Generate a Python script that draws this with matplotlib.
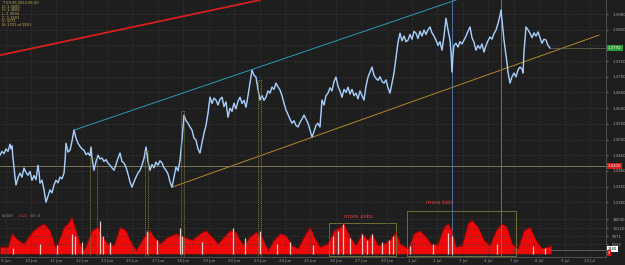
import matplotlib.pyplot as plt
from matplotlib.patches import Rectangle

# price trace: (bar index, price)
price_trace = [
    (0, 1.3450), (2, 1.3462), (4, 1.3455), (6, 1.3470), (8, 1.3462), (10, 1.3485), (11, 1.3470), (12, 1.3480),
    (13, 1.3440), (14, 1.3412), (15, 1.3380), (16, 1.3355), (18, 1.3378), (20, 1.3393), (22, 1.3380),
    (24, 1.3409), (26, 1.3395), (28, 1.3386), (30, 1.3398), (32, 1.3370), (34, 1.3385), (36, 1.3372),
    (38, 1.3418), (39, 1.3395), (40, 1.3361), (42, 1.3370), (44, 1.3339), (46, 1.3300), (48, 1.3320),
    (50, 1.3339), (52, 1.3330), (54, 1.3355), (56, 1.3370), (58, 1.3362), (60, 1.3380), (62, 1.3375),
    (64, 1.3393), (65, 1.3430), (66, 1.3488), (68, 1.3460), (70, 1.3466), (72, 1.3495), (74, 1.3530),
    (76, 1.3505), (78, 1.3488), (80, 1.3478), (82, 1.3470), (84, 1.3466), (86, 1.3452), (88, 1.3457),
    (90, 1.3448), (91, 1.3476), (92, 1.3440), (94, 1.3402), (96, 1.3430), (98, 1.3450), (100, 1.3438),
    (102, 1.3441), (104, 1.3430), (106, 1.3436), (108, 1.3425), (110, 1.3418), (112, 1.3410), (114, 1.3402),
    (116, 1.3420), (118, 1.3440), (120, 1.3457), (122, 1.3430), (124, 1.3425), (126, 1.3412), (128, 1.3390),
    (130, 1.3365), (132, 1.3348), (134, 1.3365), (136, 1.3380), (138, 1.3393), (140, 1.3402), (142, 1.3418),
    (144, 1.3440), (146, 1.3476), (148, 1.3430), (150, 1.3402), (152, 1.3420), (154, 1.3410), (156, 1.3428),
    (158, 1.3418), (160, 1.3432), (162, 1.3425), (164, 1.3410), (166, 1.3402), (168, 1.3390), (170, 1.3365),
    (172, 1.3348), (174, 1.3380), (176, 1.3412), (178, 1.3400), (180, 1.3434), (182, 1.3500), (184, 1.3578),
    (186, 1.3560), (188, 1.3552), (190, 1.3540), (192, 1.3530), (194, 1.3505), (196, 1.3498), (198, 1.3470),
    (200, 1.3457), (202, 1.3490), (204, 1.3520), (206, 1.3545), (208, 1.3584), (210, 1.3635), (212, 1.3615),
    (214, 1.3632), (216, 1.3626), (218, 1.3610), (220, 1.3628), (222, 1.3635), (224, 1.3605), (226, 1.3620),
    (228, 1.3571), (230, 1.3600), (232, 1.3590), (234, 1.3616), (236, 1.3598), (238, 1.3622), (240, 1.3635),
    (242, 1.3615), (244, 1.3625), (246, 1.3603), (248, 1.3640), (250, 1.3680), (252, 1.3721), (254, 1.3705),
    (256, 1.3699), (258, 1.3660), (260, 1.3626), (262, 1.3640), (264, 1.3625), (266, 1.3635), (268, 1.3655),
    (270, 1.3648), (272, 1.3667), (274, 1.3660), (276, 1.3680), (278, 1.3668), (280, 1.3658), (282, 1.3640),
    (284, 1.3615), (286, 1.3594), (288, 1.3580), (290, 1.3565), (292, 1.3552), (294, 1.3560), (296, 1.3545),
    (298, 1.3540), (300, 1.3555), (302, 1.3565), (304, 1.3578), (306, 1.3565), (308, 1.3552), (310, 1.3530),
    (312, 1.3508), (314, 1.3525), (316, 1.3545), (318, 1.3552), (320, 1.3540), (322, 1.3626), (324, 1.3610),
    (326, 1.3640), (328, 1.3648), (330, 1.3665), (332, 1.3655), (334, 1.3685), (336, 1.3699), (338, 1.3670),
    (340, 1.3655), (342, 1.3635), (344, 1.3660), (346, 1.3650), (348, 1.3667), (350, 1.3645), (352, 1.3660),
    (354, 1.3640), (356, 1.3648), (358, 1.3630), (360, 1.3655), (362, 1.3640), (364, 1.3626), (366, 1.3670),
    (368, 1.3699), (370, 1.3715), (372, 1.3731), (374, 1.3705), (376, 1.3695), (378, 1.3689), (380, 1.3700),
    (382, 1.3685), (384, 1.3680), (386, 1.3690), (388, 1.3665), (390, 1.3648), (392, 1.3680), (394, 1.3712),
    (396, 1.3760), (398, 1.3810), (400, 1.3839), (402, 1.3815), (404, 1.3830), (406, 1.3812), (408, 1.3817),
    (410, 1.3835), (412, 1.3820), (414, 1.3845), (416, 1.3839), (418, 1.3822), (420, 1.3845), (422, 1.3830),
    (424, 1.3849), (426, 1.3835), (428, 1.3850), (430, 1.3859), (432, 1.3840), (434, 1.3830), (436, 1.3817),
    (438, 1.3800), (440, 1.3812), (442, 1.3785), (444, 1.3830), (446, 1.3887), (448, 1.3850), (450, 1.3817),
    (451, 1.3780), (452, 1.3715), (453, 1.3770), (454, 1.3800), (456, 1.3807), (458, 1.3795), (460, 1.3812),
    (462, 1.3805), (464, 1.3817), (466, 1.3830), (468, 1.3845), (470, 1.3859), (472, 1.3825), (474, 1.3810),
    (476, 1.3785), (478, 1.3800), (480, 1.3790), (482, 1.3805), (484, 1.3779), (486, 1.3800), (488, 1.3815),
    (490, 1.3827), (492, 1.3820), (494, 1.3838), (496, 1.3849), (498, 1.3870), (500, 1.3895), (501, 1.3913),
    (502, 1.3880), (504, 1.3817), (506, 1.3770), (507, 1.3744), (508, 1.3715), (510, 1.3680), (512, 1.3700),
    (514, 1.3712), (516, 1.3700), (518, 1.3722), (520, 1.3731), (522, 1.3725), (523, 1.3712), (524, 1.3780),
    (526, 1.3859), (528, 1.3850), (530, 1.3839), (532, 1.3825), (534, 1.3840), (536, 1.3830), (538, 1.3843),
    (540, 1.3825), (542, 1.3807), (544, 1.3820), (546, 1.3817), (548, 1.3800), (550, 1.3792),
]
bar_idx = [p[0] for p in price_trace]
price = [p[1] for p in price_trace]

# volume difference histogram
hist_x = [0, 8, 12, 18, 24, 32, 38, 44, 50, 56, 64, 68, 72, 76, 80, 84, 92, 98, 102, 108,
          114, 120, 126, 130, 136, 144, 150, 154, 160, 168, 176, 184, 192, 200, 206, 212, 218, 224, 230, 236,
          240, 244, 250, 256, 262, 268, 274, 280, 286, 292, 298, 304, 310, 316, 320, 328, 334, 340, 344, 350,
          356, 362, 368, 372, 378, 384, 390, 396, 400, 408, 414, 420, 426, 432, 438, 444, 448, 452, 456, 462,
          468, 472, 478, 484, 490, 496, 502, 507, 512, 518, 524, 530, 536, 542, 548, 551]
red_hist = [3500, 3500, 10400, 7000, 5200, 11200, 13800, 15600, 12000, 2600, 13800, 15600, 19000, 12000, 5200, 1700,
            12000, 13800, 8700, 5200, 4300, 13800, 12000, 7000, 1700, 8700, 12000, 8700, 5200, 8700, 10400, 8700,
            7000, 10400, 12000, 8700, 5200, 8700, 12000, 11200, 7000, 4300, 8700, 11200, 8700, 1700, 7000, 10400,
            9500, 4300, 2600, 8700, 13800, 7000, 3500, 5200, 12000, 13800, 15600, 8700, 4300, 10400, 7000, 10400,
            4300, 5200, 7000, 11200, 5200, 2600, 10400, 12000, 8700, 4300, 5200, 13800, 15600, 12000, 3500, 4300,
            15600, 17300, 13800, 7000, 4300, 12000, 15600, 13800, 5200, 2600, 12000, 13800, 7000, 2600, 3500, 4300]
white_x = [13, 40, 57, 72, 75, 82, 100, 103, 110, 147, 157, 180, 182, 202, 233, 245, 260, 277, 290, 313,
           333, 338, 343, 350, 362, 367, 372, 382, 389, 393, 410, 433, 448, 452, 497, 533, 545]
white_hist = [3000, 5000, 4500, 10000, 9000, 6000, 17000, 9000, 6000, 12000, 7000, 13500, 9000, 6000, 13500, 8000,
              12000, 5000, 6000, 4500, 9000, 12000, 15600, 8000, 10000, 7000, 10000, 6000, 7000, 9000,
              4000, 5000, 11000, 9000, 5000, 4000, 3000]

price_ticks = [1.3900, 1.3850, 1.3800, 1.3750, 1.3700, 1.3650, 1.3600, 1.3550,
               1.3500, 1.3450, 1.3400, 1.3350, 1.3300]
vol_ticks = [18000, 13120, 9071, 5022]
time_ticks = [6, 31, 56, 82, 107, 132, 158, 183, 209, 234, 260, 285, 310, 336, 361, 387, 412, 437, 463, 488,
              514, 539, 565, 590]
time_labels = ['9 Jun', '10 Jun', '11 Jun', '12 Jun', '13 Jun', '16 Jun', '17 Jun', '18 Jun', '19 Jun',
               '20 Jun', '23 Jun', '24 Jun', '25 Jun', '26 Jun', '27 Jun', '30 Jun', '1 Jul', '2 Jul',
               '3 Jul', '4 Jul', '7 Jul', '8 Jul', '9 Jul', '10 Jul']

info_lines = ['T: 09.06.2014 05:00', 'O: 1.3600', 'H: 1.3605', 'L: 1.3594', 'C: 1.3601', 'V: 3271',
              'N: 1701 of 1951']

last_price = 1.3792
cross_price = 1.3415

bg = '#1e1e1e'
grid_c = '#3a3a3a'
W, H = 625, 265

fig = plt.figure(figsize=(6.25, 2.65), dpi=100, facecolor=bg)
ax = fig.add_axes([0, (H - 211) / H, 606 / W, 211 / H], facecolor=bg)
ax2 = fig.add_axes([0, 8 / H, 606 / W, 46 / H], facecolor=bg)

for a in (ax, ax2):
    a.set_xlim(0, 606)
    for s in ('left', 'top'):
        a.spines[s].set_visible(False)
    for s in ('right', 'bottom'):
        a.spines[s].set_color('#555555')
        a.spines[s].set_linewidth(0.6)
    a.yaxis.tick_right()
    a.tick_params(axis='y', colors='#aaaaaa', labelsize=2.8, length=1.5, width=0.4, pad=3)
    a.set_xticks(time_ticks)
    a.grid(True, color=grid_c, linestyle=(0, (2, 2)), linewidth=0.5)

ax.set_ylim(1.3272, 1.3945)
ax.set_yticks(price_ticks)
# the tick hidden behind the last-price tag gets no label
ax.set_yticklabels(['' if abs(v - last_price) < 0.002 else f'{v:.4f}' for v in price_ticks])
ax.tick_params(axis='x', length=0, labelbottom=False)

ax2.set_ylim(-1700, 22160)
ax2.set_yticks(vol_ticks)
ax2.set_yticklabels([str(v) for v in vol_ticks])
ax2.set_xticklabels(time_labels)
ax2.tick_params(axis='x', colors='#999999', labelsize=2.8, length=0, pad=1.5)

# trend lines
ax.axline((0, 1.3769), (260, 1.3945), color='#d42020', lw=1.3)
ax.plot([74, 456], [1.3530, 1.3945], color='#2b9bb5', lw=0.7)
ax.plot([172, 599], [1.3348, 1.3833], color='#b08a2a', lw=0.7)
ax.axhline(cross_price, color='#8a8060', lw=0.6)
ax.plot([550, 606], [last_price, last_price], color='#6a6a50', lw=0.5)

# vertical markers through both panels
for a in (ax, ax2):
    a.axvline(452, color='#4f6f99', lw=0.7)
    a.axvline(501, color='#6f6f6f', lw=0.7)

# price line
ax.plot(bar_idx, price, color='#7fb0e6', lw=1.1)
ax.plot(bar_idx, price, color='#eef4ff', lw=0.35, alpha=0.8)

# narrow marker boxes spanning price and volume panels
boxes = [(90, 97, 1.3441), (145, 148, 1.3463), (181, 184, 1.3590), (258, 261, 1.3690)]
for x0, x1, top in boxes:
    ax.plot([x0, x0, x1, x1], [1.3272, top, top, 1.3272], color='#7d7a3a', lw=0.6, ls=(0, (1.5, 1)))
    ax2.plot([x0, x0, x1, x1], [22160, -1500, -1500, 22160], color='#7d7a3a', lw=0.6, ls=(0, (1.5, 1)))

# volume histogram
ax2.fill_between(hist_x, 0, red_hist, color='#ee0a0a', lw=0)
ax2.plot(hist_x, red_hist, color='#a80000', lw=0.5)
ax2.vlines(white_x, 0, white_hist, color='#efc6c6', lw=0.9)
ax2.plot([550, 606], [1900, 1900], color='#777777', lw=0.5)

ax2.add_patch(Rectangle((329, -1300), 67, 17300, fill=False, ec='#7d7a3a', lw=0.6))
ax2.add_patch(Rectangle((407, -1300), 109, 23400, fill=False, ec='#7d7a3a', lw=0.6, clip_on=False))
ax2.text(358, 19500, 'more asks', color='#e04040', fontsize=4, ha='center', va='center')
ax2.text(440, 26500, 'more bids', color='#e04040', fontsize=4, ha='center', va='center', clip_on=False)

ax2.text(2, 19800, 'VolDiff', color='#888888', fontsize=2.6, va='center')
ax2.text(18, 19800, '-1622', color='#e03030', fontsize=2.6, va='center')
ax2.text(30, 19800, 'Vol: 0', color='#888888', fontsize=2.6, va='center')

# price tags on the right axis
ax.text(608, cross_price, f'{cross_price:.4f}', color='white', fontsize=2.8, va='center',
        bbox=dict(boxstyle='square,pad=0.2', fc='#d02020', ec='none'), clip_on=False)
ax.text(608, last_price, f'{last_price:.4f}', color='white', fontsize=2.8, va='center',
        bbox=dict(boxstyle='square,pad=0.2', fc='#2e9a3a', ec='none'), clip_on=False)
ax2.text(608, 2440, '2440', color='black', fontsize=2.6, va='center',
         bbox=dict(boxstyle='square,pad=0.15', fc='white', ec='none'), clip_on=False)
ax2.text(608, 360, '0', color='white', fontsize=2.6, va='center',
         bbox=dict(boxstyle='square,pad=0.15', fc='#e01010', ec='none'), clip_on=False)

for i, line in enumerate(info_lines):
    ax.text(2, 1.3935 - i * 0.00115, line, color='#c9b25a', fontsize=2.6, va='center')

fig.savefig('out.png', dpi=100, facecolor=bg)
